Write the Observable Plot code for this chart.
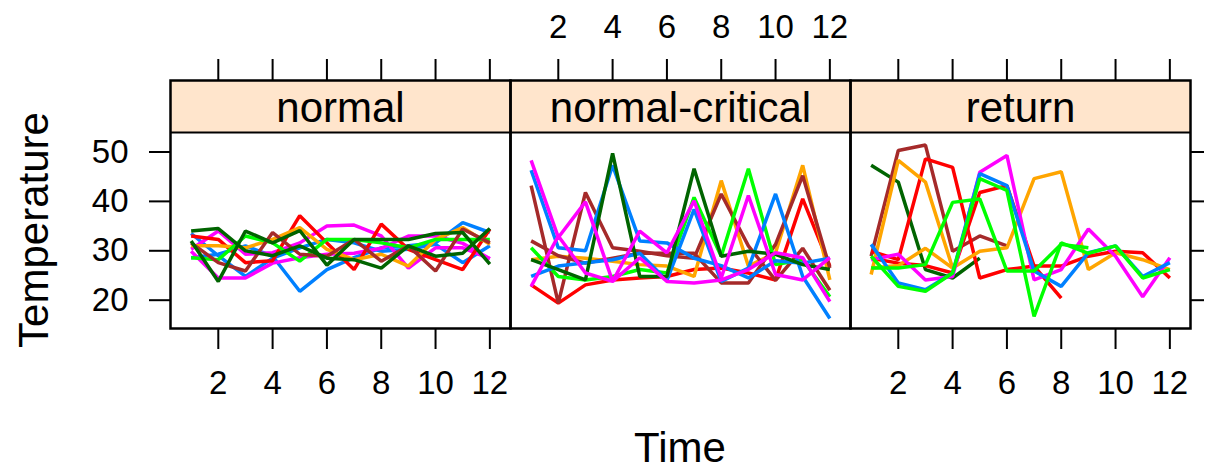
<!DOCTYPE html>
<html>
<head>
<meta charset="utf-8">
<script src="https://cdn.jsdelivr.net/npm/d3@7"></script>
<script src="https://cdn.jsdelivr.net/npm/@observablehq/plot@0.6"></script>
<style>
  html, body { margin: 0; padding: 0; background: #fff; }
</style>
</head>
<body>
<div id="chart"></div>
<script>
// ---------------- data ----------------
const panels = ["normal", "normal-critical", "return"];
const times = [1, 2, 3, 4, 5, 6, 7, 8, 9, 10, 11, 12];
const xTicks = [2, 4, 6, 8, 10, 12];
const yTicks = [20, 30, 40, 50];

const BLUE = "#0080ff", MAGENTA = "#ff00ff", DKGREEN = "#006400", RED = "#ff0000",
      ORANGE = "#ffa500", GREEN = "#00ff00", BROWN = "#a52a2a";

const normalColors = [BLUE, BLUE, MAGENTA, MAGENTA, RED, ORANGE, GREEN, BROWN, DKGREEN, DKGREEN];
const normalTemps = [
  [28.6, 29.3, 31.0, 28.9, 21.8, 26.2, 28.6, 30.6, 31.0, 31.6, 35.7, 33.7],
  [33.5, 29.0, 24.8, 28.5, 30.6, 32.3, 31.6, 29.9, 30.3, 31.3, 27.6, 31.0],
  [30.3, 34.0, 29.3, 29.6, 31.6, 35.0, 35.2, 33.0, 26.5, 30.6, 30.6, 28.4],
  [29.9, 24.5, 24.5, 27.5, 28.6, 29.3, 29.5, 30.5, 33.0, 33.0, 31.5, 28.4],
  [33.0, 32.3, 27.6, 28.0, 37.1, 31.6, 26.2, 35.4, 30.3, 28.2, 26.2, 34.4],
  [31.0, 31.0, 30.6, 32.3, 34.7, 30.3, 28.2, 29.3, 26.9, 32.3, 34.7, 31.3],
  [28.6, 28.2, 33.0, 31.6, 27.9, 32.3, 32.3, 31.6, 30.6, 32.3, 32.3, 32.3],
  [31.6, 27.6, 25.9, 33.7, 29.3, 28.9, 32.3, 27.9, 31.0, 25.9, 34.4, 31.6],
  [34.0, 34.5, 30.0, 29.0, 31.0, 28.5, 28.2, 26.5, 31.0, 28.9, 29.5, 34.5],
  [32.0, 23.8, 34.0, 31.6, 34.1, 27.1, 32.3, 32.3, 32.3, 33.5, 33.7, 27.3]
];

const criticalColors = [RED, ORANGE, BROWN, BROWN, GREEN, BLUE, BLUE, DKGREEN, MAGENTA, MAGENTA];
const criticalTemps = [
  [23.1, 19.4, 23.1, 24.1, 24.5, 24.8, 26.2, 26.5, 25.5, 24.1, 40.5, 26.9],
  [28.2, 28.9, 28.5, 27.9, 27.2, 26.9, 24.8, 44.2, 26.9, 29.6, 47.3, 24.1],
  [43.2, 19.4, 41.8, 30.6, 29.9, 29.0, 28.5, 41.5, 31.0, 24.0, 30.5, 22.0],
  [32.0, 29.0, 27.5, 28.5, 29.5, 29.5, 29.5, 23.5, 23.5, 31.3, 45.2, 26.5],
  [30.6, 24.8, 24.1, 24.8, 26.2, 25.5, 40.8, 28.9, 46.6, 27.2, 28.2, 20.7],
  [46.3, 30.6, 30.0, 47.3, 32.0, 31.6, 28.5, 27.0, 24.5, 28.0, 27.5, 28.5],
  [24.8, 26.9, 27.6, 28.2, 29.5, 24.0, 38.4, 23.8, 26.5, 41.5, 24.8, 16.3],
  [28.2, 26.2, 24.1, 49.7, 24.8, 24.8, 46.6, 28.9, 29.9, 29.3, 27.2, 26.2],
  [22.8, 33.0, 25.5, 23.8, 28.6, 23.8, 23.5, 24.1, 26.2, 29.6, 28.6, 19.7],
  [48.3, 32.7, 39.9, 23.8, 34.0, 29.6, 40.1, 24.5, 41.2, 25.2, 24.1, 28.6]
];

const returnColors = [DKGREEN, BROWN, RED, RED, ORANGE, ORANGE, MAGENTA, BLUE, GREEN, GREEN];
const returnTemps = [
  [47.3, 43.9, 26.2, 24.5, 28.5],
  [28.9, 50.3, 51.4, 29.9, 33.0, 31.0],
  [29.9, 28.2, 48.6, 46.9, 24.5, 26.2, 26.9, 26.9, 28.9, 29.9, 29.6, 24.5],
  [28.5, 27.5, 27.0, 25.5, 41.8, 43.2, 26.9, 20.4],
  [25.2, 48.3, 43.9, 26.5, 29.9, 30.6, 44.6, 46.0, 26.2, 29.6, 28.2, 26.2],
  [26.5, 27.0, 30.5, 26.5],
  [28.2, 29.3, 24.1, 24.8, 45.9, 49.3, 24.1, 26.2, 34.4, 28.9, 20.7, 28.6],
  [31.3, 23.5, 22.1, 25.5, 45.6, 43.2, 25.9, 22.8, 29.6, 31.0, 24.8, 27.6],
  [28.9, 22.8, 21.8, 25.5, 44.6, 42.2, 16.7, 31.6, 29.5, 31.0, 24.5, 26.2],
  [26.5, 26.5, 27.2, 39.8, 40.5, 25.9, 25.9, 31.3, 30.6]
];

// ---------------- tidy rows ----------------
const rows = [];
[[panels[0], normalColors, normalTemps],
 [panels[1], criticalColors, criticalTemps],
 [panels[2], returnColors, returnTemps]].forEach(([panel, colors, temps]) => {
  temps.forEach((series, s) => {
    series.forEach((v, i) => rows.push({panel, id: panel + "-" + s, time: times[i], temp: v, color: colors[s]}));
  });
});

// ---------------- layout ----------------
const W = 1207, H = 470, mL = 170, mR = 17, mT = 80, mB = 142;
const xDom = [0.24, 12.76];
const yDom = [14.27, 64.47];
const panelTop = 53.93;                     // top of data region (strip sits above)
const facetW = (W - mL - mR) / panels.length;
const kx = facetW / (xDom[1] - xDom[0]);
const ky = (H - mT - mB) / (yDom[1] - yDom[0]);
const px2x = px => xDom[0] + px / kx;          // px relative to facet left
const py2y = py => yDom[0] + (H - mB - py) / ky; // absolute svg py

const topTickRows = panels.flatMap(p => xTicks.map(t => ({panel: p, t})));
const bottomTickRows = [panels[0], panels[2]].flatMap(p => xTicks.map(t => ({panel: p, t})));
const topLabelRows = xTicks.map(t => ({panel: panels[1], t}));

const font = "'Liberation Sans', Arial, Helvetica, sans-serif";
const tickFont = 33;

const svg = Plot.plot({
  width: W, height: H,
  marginLeft: mL, marginRight: mR, marginTop: mT, marginBottom: mB,
  x: {domain: xDom, axis: null},
  y: {domain: yDom, axis: null},
  fx: {domain: panels, padding: 0, axis: null},
  color: {type: "identity"},
  style: {fontFamily: font, background: "white", color: "black", overflow: "visible"},
  marks: [
    // strip background
    Plot.rect(panels, {fx: d => d, x1: () => xDom[0], x2: () => xDom[1], y1: () => panelTop, y2: () => yDom[1], fill: "#ffe5cc"}),
    // data lines
    Plot.line(rows, {fx: "panel", x: "time", y: "temp", z: "id", stroke: d => d.color, strokeWidth: 3.5, strokeLinejoin: "miter", strokeLinecap: "butt"}),
    // strip/panel separator & frame
    Plot.ruleY(panels, {fx: d => d, y: () => panelTop, stroke: "black", strokeWidth: 2}),
    Plot.frame({stroke: "black", strokeWidth: 2.5}),
    // strip labels
    Plot.text(panels, {fx: d => d, x: () => (xDom[0] + xDom[1]) / 2, y: () => (panelTop + yDom[1]) / 2, text: d => d, fontSize: 42, dy: 2}),
    // top ticks (all panels)
    Plot.ruleX(topTickRows, {fx: "panel", x: "t", y1: () => py2y(80), y2: () => py2y(59), stroke: "black", strokeWidth: 2}),
    // top labels (middle panel)
    Plot.text(topLabelRows, {fx: "panel", x: "t", y: () => py2y(27), text: d => String(d.t), fontSize: tickFont}),
    // bottom ticks + labels (outer panels)
    Plot.ruleX(bottomTickRows, {fx: "panel", x: "t", y1: () => py2y(328), y2: () => py2y(349), stroke: "black", strokeWidth: 2}),
    Plot.text(bottomTickRows, {fx: "panel", x: "t", y: () => py2y(383), text: d => String(d.t), fontSize: tickFont}),
    // left y ticks + labels
    Plot.ruleY(yTicks, {fx: () => panels[0], y: d => d, x1: () => px2x(-21), x2: () => px2x(0), stroke: "black", strokeWidth: 2}),
    Plot.text(yTicks, {fx: () => panels[0], y: d => d, x: () => px2x(-42), text: d => String(d), textAnchor: "end", fontSize: tickFont}),
    // right y ticks
    Plot.ruleY(yTicks, {fx: () => panels[2], y: d => d, x1: () => px2x(facetW), x2: () => px2x(facetW + 14), stroke: "black", strokeWidth: 2})
  ]
});

const s = d3.select(svg);
s.append("text")
  .attr("transform", "translate(33,230) rotate(-90)")
  .attr("text-anchor", "middle")
  .attr("dominant-baseline", "central")
  .attr("font-size", 42)
  .attr("font-family", font)
  .attr("fill", "black")
  .text("Temperature");
s.append("text")
  .attr("x", 680).attr("y", 462)
  .attr("text-anchor", "middle")
  .attr("font-size", 42)
  .attr("font-family", font)
  .attr("fill", "black")
  .text("Time");

document.getElementById("chart").appendChild(svg);
</script>
</body>
</html>
